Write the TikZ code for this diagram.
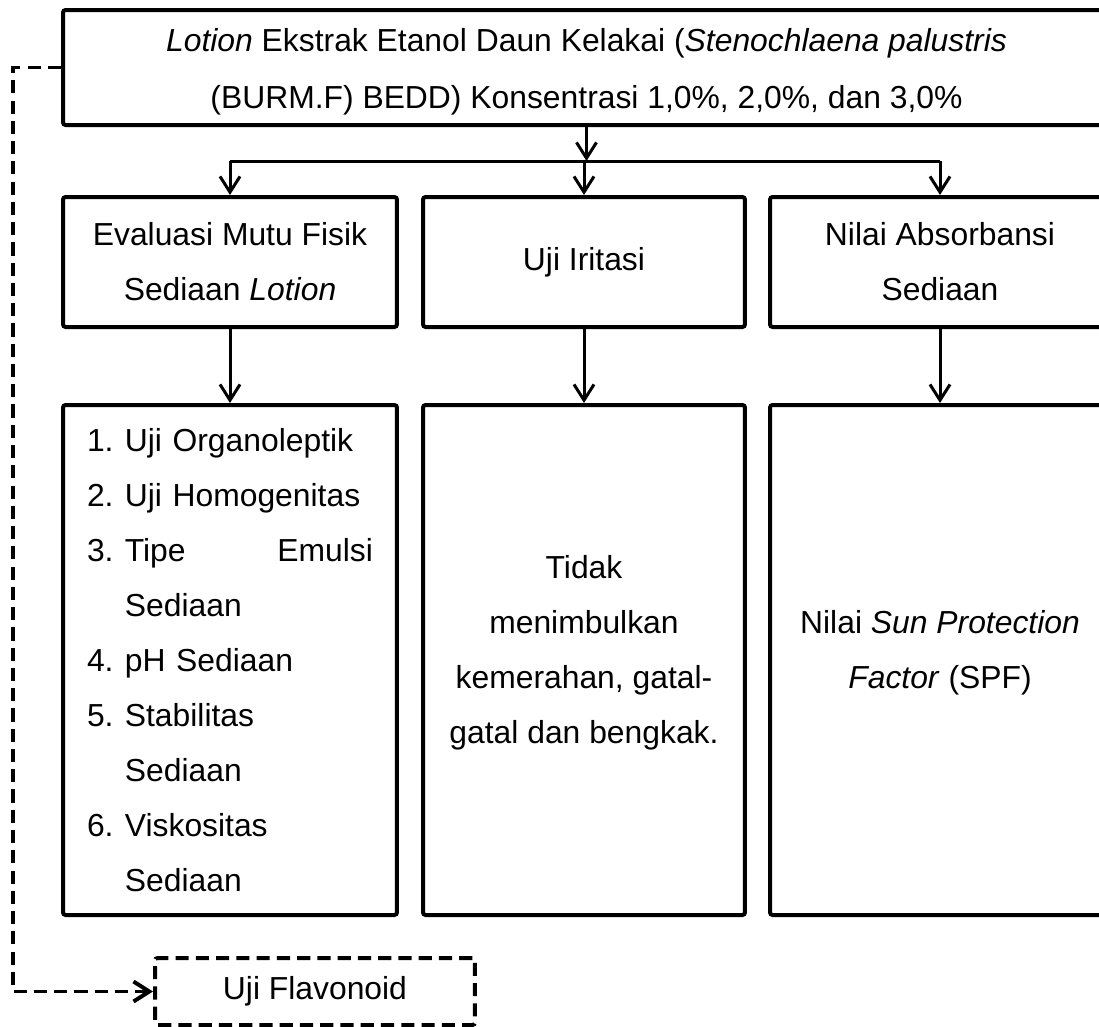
\documentclass[tikz,border=0pt]{standalone}
\usepackage{fontspec}
\setmainfont{Liberation Sans}
\usetikzlibrary{arrows.meta, positioning}
\newcommand{\numlbl}[1]{\makebox[14.4pt][l]{#1}}
\newcommand{\contlbl}{\hspace*{14.4pt}}
\newcommand{\lowstrut}{\rule[-7.8pt]{0pt}{7.8pt}}

\tikzset{
  box/.style={draw, line width=1.52pt, rounded corners=1pt, align=center, inner sep=0pt},
  link/.style={line width=1.14pt},
  arr/.style={link, -{Straight Barb[length=6pt,width=7.6pt]}},
  dasharr/.style={line width=1.5pt, dash pattern=on 5pt off 2.7pt,
    -{Straight Barb[length=6pt,width=7.6pt]}},
}

\begin{document}
\begin{tikzpicture}[x=0.38pt, y=-0.38pt, font=\fontsize{12.1pt}{20.9pt}\selectfont]
  \useasboundingbox (0,0) rectangle (1099,1027);
  \clip (0,0) rectangle (1099,1027);
  % Sediaan lotion
  \node[box, minimum width=397.86pt, minimum height=43.7pt,
        font=\fontsize{12.1pt}{21.3pt}\selectfont] (top) at (586.5,67.5)
    {\rule{0pt}{12pt}\textit{Lotion} Ekstrak Etanol Daun Kelakai (\textit{Stenochlaena palustris}\\
     (BURM.F) BEDD) Konsentrasi 1,0\%, 2,0\%, dan 3,0\%};
  % Parameter uji
  \node[box, minimum width=126.92pt, minimum height=49.4pt] (fisik) at (230,262)
    {Evaluasi Mutu Fisik\\Sediaan \textit{Lotion}};
  \node[box, minimum width=122.36pt, minimum height=49.4pt] (iritasi) at (584,262)
    {Uji Iritasi};
  \node[box, minimum width=129.2pt, minimum height=49.4pt] (absorb) at (940,262)
    {Nilai Absorbansi\\Sediaan};
  % Hasil
  \node[box, align=left, text width=108.68pt, inner xsep=9.12pt, minimum height=193.8pt]
    (ujifisik) at (230,660)
    {\numlbl{1.}Uji Organoleptik\\
     \numlbl{2.}Uji Homogenitas\\
     \numlbl{3.}Tipe\hfill Emulsi\\
     \contlbl Sediaan\\
     \numlbl{4.}pH Sediaan\\
     \numlbl{5.}Stabilitas\\
     \contlbl Sediaan\\
     \numlbl{6.}Viskositas\\
     \contlbl Sediaan};
  \node[box, minimum width=122.36pt, minimum height=193.8pt] (hasiliritasi) at (584,660)
    {Tidak\\menimbulkan\\kemerahan, gatal-\\gatal dan bengkak.\lowstrut};
  \node[box, minimum width=129.2pt, minimum height=193.8pt] (spf) at (940,660)
    {Nilai \textit{Sun Protection}\\\textit{Factor} (SPF)\lowstrut};
  % Flavonoid
  \node[box, dash pattern=on 5pt off 2.7pt, minimum width=121.6pt, minimum height=25.46pt]
    (flav) at (315,991.5) {Uji Flavonoid};
  % Panah
  \coordinate (split) at (586.5,161);
  \coordinate (loopx) at (13,0);
  \draw[arr] (top.south) -- (split);
  \draw[link] (fisik.north |- split) -- (absorb.north |- split);
  \foreach \n in {fisik, iritasi, absorb}
    \draw[arr] (\n.north |- split) -- (\n.north);
  \draw[arr] (fisik.south) -- (ujifisik.north);
  \draw[arr] (iritasi.south) -- (hasiliritasi.north);
  \draw[arr] (absorb.south) -- (spf.north);
  \draw[dasharr] (top.west) -- (top.west -| loopx) |- (flav.west);
\end{tikzpicture}
\end{document}
